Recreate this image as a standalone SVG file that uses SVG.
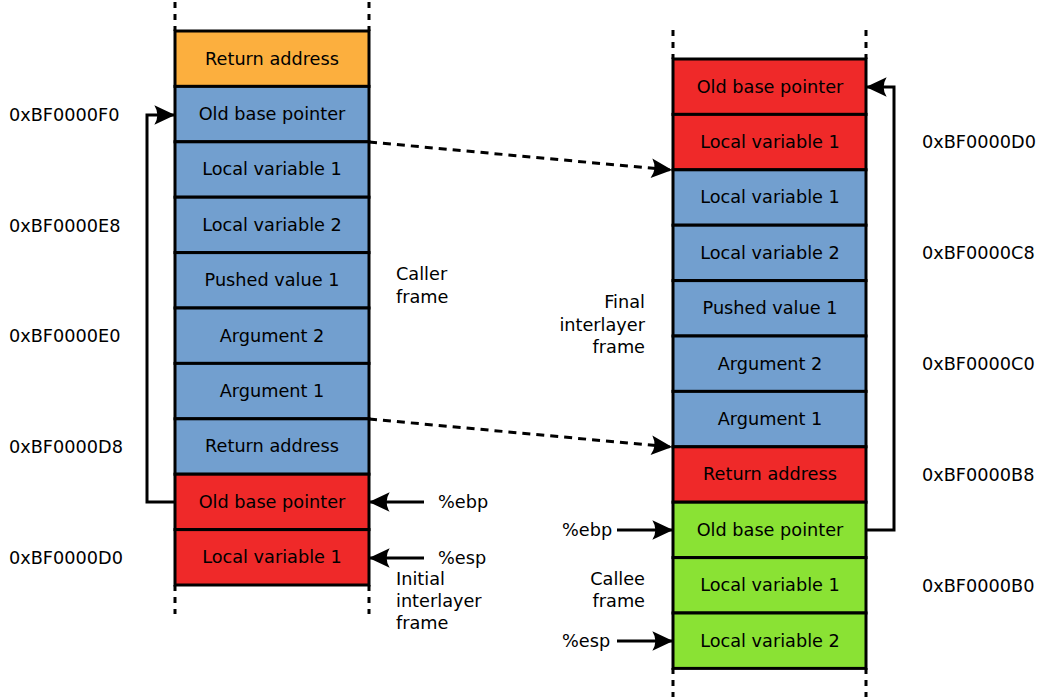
<svg xmlns="http://www.w3.org/2000/svg" width="1039" height="700" viewBox="0 0 1039 700">
<defs>
<marker id="ah" markerUnits="userSpaceOnUse" markerWidth="24" markerHeight="24" viewBox="-20 -10 22 20" refX="0" refY="0" orient="auto" overflow="visible">
<path d="M1,0 L-18,-9 Q-12.5,0 -18,9 Z" fill="#000"/>
</marker>
<style>
.cell{stroke:#000;stroke-width:3}
.or{fill:#fcaf3e}.bl{fill:#729fcf}.rd{fill:#ef2929}.gr{fill:#8ae234}
text{font-family:"DejaVu Sans",sans-serif;font-size:17.7px;fill:#000}
.c{text-anchor:middle}
.r{text-anchor:end}
.dash{stroke:#000;stroke-width:3;stroke-dasharray:6,6;fill:none}
.ln{stroke:#000;stroke-width:3;fill:none}
.dl{stroke:#000;stroke-width:3;stroke-dasharray:8,6;fill:none}
</style>
</defs>
<rect width="1039" height="700" fill="#fff"/>
<g id="left-stack">
<line class="dash" x1="175" y1="2" x2="175" y2="31"/>
<line class="dash" x1="369" y1="2" x2="369" y2="31"/>
<line class="dash" x1="175" y1="585" x2="175" y2="614"/>
<line class="dash" x1="369" y1="585" x2="369" y2="614"/>
<g id="l1"><rect class="cell or" x="175" y="31" width="194" height="55.4"/><text class="c" x="272" y="65">Return address</text></g>
<g id="l2"><rect class="cell bl" x="175" y="86.4" width="194" height="55.4"/><text class="c" x="272" y="120">Old base pointer</text></g>
<g id="l3"><rect class="cell bl" x="175" y="141.8" width="194" height="55.4"/><text class="c" x="272" y="175">Local variable 1</text></g>
<g id="l4"><rect class="cell bl" x="175" y="197.2" width="194" height="55.4"/><text class="c" x="272" y="231">Local variable 2</text></g>
<g id="l5"><rect class="cell bl" x="175" y="252.6" width="194" height="55.4"/><text class="c" x="272" y="286">Pushed value 1</text></g>
<g id="l6"><rect class="cell bl" x="175" y="308" width="194" height="55.4"/><text class="c" x="272" y="342">Argument 2</text></g>
<g id="l7"><rect class="cell bl" x="175" y="363.4" width="194" height="55.4"/><text class="c" x="272" y="397">Argument 1</text></g>
<g id="l8"><rect class="cell bl" x="175" y="418.8" width="194" height="55.4"/><text class="c" x="272" y="452">Return address</text></g>
<g id="l9"><rect class="cell rd" x="175" y="474.2" width="194" height="55.4"/><text class="c" x="272" y="508">Old base pointer</text></g>
<g id="l10"><rect class="cell rd" x="175" y="529.6" width="194" height="55.4"/><text class="c" x="272" y="563">Local variable 1</text></g>
</g>
<g id="right-stack">
<line class="dash" x1="673" y1="30" x2="673" y2="59"/>
<line class="dash" x1="866" y1="30" x2="866" y2="59"/>
<line class="dash" x1="673" y1="668" x2="673" y2="697"/>
<line class="dash" x1="866" y1="668" x2="866" y2="697"/>
<g id="r1"><rect class="cell rd" x="673" y="59" width="193" height="55.4"/><text class="c" x="770" y="93">Old base pointer</text></g>
<g id="r2"><rect class="cell rd" x="673" y="114.4" width="193" height="55.4"/><text class="c" x="770" y="148">Local variable 1</text></g>
<g id="r3"><rect class="cell bl" x="673" y="169.8" width="193" height="55.4"/><text class="c" x="770" y="203">Local variable 1</text></g>
<g id="r4"><rect class="cell bl" x="673" y="225.2" width="193" height="55.4"/><text class="c" x="770" y="259">Local variable 2</text></g>
<g id="r5"><rect class="cell bl" x="673" y="280.6" width="193" height="55.4"/><text class="c" x="770" y="314">Pushed value 1</text></g>
<g id="r6"><rect class="cell bl" x="673" y="336" width="193" height="55.4"/><text class="c" x="770" y="370">Argument 2</text></g>
<g id="r7"><rect class="cell bl" x="673" y="391.4" width="193" height="55.4"/><text class="c" x="770" y="425">Argument 1</text></g>
<g id="r8"><rect class="cell rd" x="673" y="446.8" width="193" height="55.4"/><text class="c" x="770" y="480">Return address</text></g>
<g id="r9"><rect class="cell gr" x="673" y="502.2" width="193" height="55.4"/><text class="c" x="770" y="536">Old base pointer</text></g>
<g id="r10"><rect class="cell gr" x="673" y="557.6" width="193" height="55.4"/><text class="c" x="770" y="591">Local variable 1</text></g>
<g id="r11"><rect class="cell gr" x="673" y="613" width="193" height="55.4"/><text class="c" x="770" y="647">Local variable 2</text></g>
</g>
<g id="addresses">
<text x="9" y="121">0xBF0000F0</text>
<text x="9" y="232">0xBF0000E8</text>
<text x="9" y="342">0xBF0000E0</text>
<text x="9" y="453">0xBF0000D8</text>
<text x="9" y="564">0xBF0000D0</text>
<text x="922" y="148">0xBF0000D0</text>
<text x="922" y="259">0xBF0000C8</text>
<text x="922" y="370">0xBF0000C0</text>
<text x="922" y="481">0xBF0000B8</text>
<text x="922" y="592">0xBF0000B0</text>
</g>
<g id="labels">
<text x="396" y="280">Caller</text>
<text x="396" y="303">frame</text>
<text class="r" x="645" y="308">Final</text>
<text class="r" x="645" y="331">interlayer</text>
<text class="r" x="645" y="353">frame</text>
<text x="396" y="585">Initial</text>
<text x="396" y="607">interlayer</text>
<text x="396" y="629">frame</text>
<text class="r" x="645" y="585">Callee</text>
<text class="r" x="645" y="607">frame</text>
<text x="438" y="508">%ebp</text>
<text x="438" y="564">%esp</text>
<text x="562" y="536">%ebp</text>
<text x="562" y="647">%esp</text>
</g>
<g id="connectors">
<polyline class="ln" points="175,502 147,502 147,115 174,115" marker-end="url(#ah)"/>
<polyline class="ln" points="866,530 894,530 894,87 867,87" marker-end="url(#ah)"/>
<line class="dl" x1="369" y1="142" x2="671" y2="170" marker-end="url(#ah)"/>
<line class="dl" x1="369" y1="419" x2="671" y2="447" marker-end="url(#ah)"/>
<line class="ln" x1="424" y1="502" x2="370" y2="502" marker-end="url(#ah)"/>
<line class="ln" x1="424" y1="558" x2="370" y2="558" marker-end="url(#ah)"/>
<line class="ln" x1="617" y1="530" x2="672" y2="530" marker-end="url(#ah)"/>
<line class="ln" x1="617" y1="641" x2="672" y2="641" marker-end="url(#ah)"/>
</g>
</svg>
